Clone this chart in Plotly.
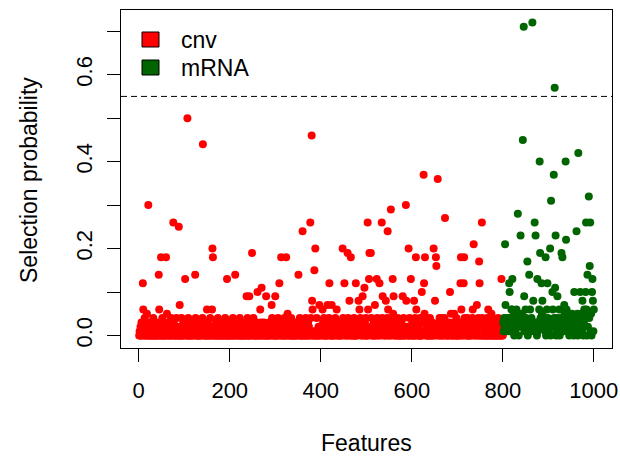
import plotly.graph_objects as go

# ---------------- data ----------------
n_cnv = 800
n_mrna = 200

# low band of selection probabilities (hundredths), one digit per feature
cnv_low_digits = (
    "0102031020 1040210030 1020310200 1402010301 0201030021 0401020301 2001030210 4020103020 1040210301 0204010302"
    "1030201040 2010302103 0120401030 2010203014 0201030201 0302104020 1030201203 0104020130 2010302014 0302010203"
    "0201304010 2030102013 0402010302 0103021040 1020301201 0403010203 1020104030 2010320104 0201030201 3040102031"
    "0102040301 2010302014 0301020103 2010403020 1030201302 0104020301 2030104020 1302010403 0201030210 4010203012"
    "2010304020 1030120401 0302010203 1402010302 0103021040 2013020104 0301020310 2040103020 1302014030 1020103040"
    "0201030210 4020103012 0304010203 1020401302 0103040201 3020104030 2010302140 3010203012 0402013020 1030401020"
    "3010204020 1302010403 0201302104 0201030204 1020301402 0103020130 4020103021 0401302010 2030140201 0302010403"
    "0102030140 2010302013 0402010302 1040301020 1302040102 0301402013 0201040302 1030201403 0102030204 1030201020"
)
cnv_peak_features = [9, 10, 18, 21, 44, 45, 49, 60, 62, 76, 88, 90, 102, 107, 124, 141, 150, 161, 162, 163,
                     194, 212, 237, 243, 249, 261, 267, 270, 280, 292, 300, 309, 313, 324, 327, 351, 360, 377,
                     380, 381, 382, 386, 388, 397, 404, 415, 419, 424, 435, 448, 452, 459, 463, 466, 477, 483,
                     485, 492, 496, 503, 504, 506, 507, 510, 519, 523, 529, 534, 536, 543, 547, 548, 554, 558,
                     559, 560, 580, 587, 588, 593, 598, 605, 609, 610, 622, 626, 627, 628, 629, 648, 651, 653,
                     654, 657, 664, 673, 684, 686, 693, 707, 708, 709, 714, 715, 716, 734, 736, 743, 748, 749,
                     754, 768, 775, 797]
cnv_peak_values = [0.12, 0.06, 0.05, 0.30, 0.14, 0.06, 0.18, 0.18, 0.05, 0.26, 0.25, 0.07, 0.13, 0.50, 0.14,
                   0.44, 0.06, 0.06, 0.20, 0.18, 0.13, 0.14, 0.09, 0.09, 0.19, 0.10, 0.06, 0.11, 0.09, 0.07,
                   0.09, 0.12, 0.18, 0.18, 0.05, 0.14, 0.24, 0.26, 0.46, 0.08, 0.06, 0.15, 0.20, 0.07, 0.06,
                   0.07, 0.12, 0.07, 0.06, 0.20, 0.12, 0.19, 0.08, 0.18, 0.12, 0.08, 0.06, 0.09, 0.11, 0.26,
                   0.06, 0.13, 0.19, 0.19, 0.07, 0.13, 0.12, 0.26, 0.09, 0.08, 0.24, 0.06, 0.29, 0.13, 0.05,
                   0.09, 0.09, 0.30, 0.08, 0.20, 0.13, 0.08, 0.18, 0.06, 0.10, 0.37, 0.12, 0.05, 0.18, 0.20,
                   0.08, 0.18, 0.16, 0.36, 0.04, 0.27, 0.10, 0.05, 0.05, 0.12, 0.18, 0.06, 0.12, 0.18, 0.04,
                   0.06, 0.21, 0.07, 0.17, 0.12, 0.26, 0.06, 0.05, 0.13]

mrna_low_digits = (
    "3142051324 2315042136 1425031426 2413052314 2531420136 4215032416 1342520314 2513041326 3142051423 2415036142"
    "1325042316 2541320415 3126042351 4213052416 3241502314 1532406123 2415032146 3251420315 4126032514 2315042613"
)
mrna_peak_features = [805, 806, 814, 815, 819, 821, 833, 839, 844, 846, 847, 854, 858, 865, 867, 870, 872, 876,
                      881, 882, 885, 887, 894, 898, 904, 906, 909, 912, 914, 915, 916, 920, 929, 931, 935, 938,
                      939, 957, 962, 966, 970, 975, 979, 982, 983, 986, 989, 991, 992, 996, 997, 998, 1000]
mrna_peak_values = [0.21, 0.07, 0.12, 0.10, 0.06, 0.13, 0.28, 0.23, 0.45, 0.71, 0.09, 0.17, 0.14, 0.72, 0.08,
                    0.26, 0.23, 0.13, 0.40, 0.19, 0.12, 0.08, 0.18, 0.12, 0.20, 0.31, 0.10, 0.37, 0.57, 0.11,
                    0.23, 0.09, 0.19, 0.18, 0.07, 0.40, 0.22, 0.10, 0.24, 0.42, 0.10, 0.08, 0.06, 0.10, 0.26,
                    0.14, 0.32, 0.16, 0.26, 0.10, 0.13, 0.08, 0.06]

threshold = 0.55
x_ticks = [0, 200, 400, 600, 800, 1000]
y_ticks = [0.0, 0.1, 0.2, 0.3, 0.4, 0.5, 0.6, 0.7]
y_ticktext = ["0.0", "", "0.2", "", "0.4", "", "0.6", ""]
legend_names = ["cnv", "mRNA"]
colors = ["#FF0000", "#006400"]

# ---------------- build series ----------------
cnv_vals = [int(c) / 100 for c in cnv_low_digits.replace(" ", "")][:n_cnv]
for f, v in zip(cnv_peak_features, cnv_peak_values):
    cnv_vals[f - 1] = v
cnv_x = list(range(1, n_cnv + 1))

mrna_vals = [int(c) / 100 for c in mrna_low_digits.replace(" ", "")][:n_mrna]
for f, v in zip(mrna_peak_features, mrna_peak_values):
    mrna_vals[f - n_cnv - 1] = v
mrna_x = list(range(n_cnv + 1, n_cnv + n_mrna + 1))

# R-style axis ranges (4% extension)
xmin, xmax = 1, n_cnv + n_mrna
ymax = max(max(cnv_vals), max(mrna_vals))
xr = [xmin - 0.04 * (xmax - xmin), xmax + 0.04 * (xmax - xmin)]
yr = [-0.04 * ymax, ymax * 1.04]

W, H = 620, 457
L, R, T, B = 121, 8, 10, 109
PW, PH = W - L - R, H - T - B


def px(xp):
    return (xp - L) / PW


def py(yp):
    return (H - B - yp) / PH


FONT = "Liberation Sans, Arial, sans-serif"
FS = 22
FS_T = 23

fig = go.Figure()
fig.add_trace(go.Scatter(x=cnv_x, y=cnv_vals, mode="markers", name=legend_names[0],
                         marker=dict(color=colors[0], size=8, line=dict(width=0)), showlegend=False))
fig.add_trace(go.Scatter(x=mrna_x, y=mrna_vals, mode="markers", name=legend_names[1],
                         marker=dict(color=colors[1], size=8, line=dict(width=0)), showlegend=False))

# threshold line
fig.add_shape(type="line", xref="paper", yref="y", x0=0, x1=1, y0=threshold, y1=threshold,
              line=dict(color="black", width=1, dash="6px,4px"))

# legend (R style squares)
for i, (name, col) in enumerate(zip(legend_names, colors)):
    top = 32 + 28 * i
    fig.add_shape(type="rect", xref="paper", yref="paper", x0=px(142), x1=px(159),
                  y0=py(top + 15), y1=py(top), fillcolor=col, line=dict(color="black", width=1))
    fig.add_annotation(text=name, xref="paper", yref="paper", x=px(179), y=py(top + 8),
                       xanchor="left", yanchor="middle", showarrow=False,
                       font=dict(family=FONT, size=FS_T, color="black"))

# axis titles
fig.add_annotation(text="Features", xref="paper", yref="paper", x=0.5, y=py(443),
                   xanchor="center", yanchor="middle", showarrow=False,
                   font=dict(family=FONT, size=FS_T, color="black"))
fig.add_annotation(text="Selection probability", xref="paper", yref="paper", x=px(29), y=py(180),
                   xanchor="center", yanchor="middle", textangle=-90, showarrow=False,
                   font=dict(family=FONT, size=FS_T, color="black"))

axis_common = dict(showgrid=False, zeroline=False, showline=True, linecolor="black", linewidth=1,
                   mirror=True, ticks="outside", ticklen=13, tickwidth=1, tickcolor="black",
                   tickfont=dict(family=FONT, size=FS, color="black"))
fig.update_xaxes(range=xr, tickvals=x_ticks, ticktext=[str(v) for v in x_ticks],
                 ticklabelstandoff=10, **axis_common)
fig.update_yaxes(range=yr, tickvals=y_ticks, ticktext=y_ticktext, tickangle=-90,
                 ticklabelstandoff=6, **axis_common)

fig.update_layout(width=W, height=H, margin=dict(l=L, r=R, t=T, b=B, autoexpand=False),
                  plot_bgcolor="white", paper_bgcolor="white", showlegend=False)

fig.write_html("out.html")
